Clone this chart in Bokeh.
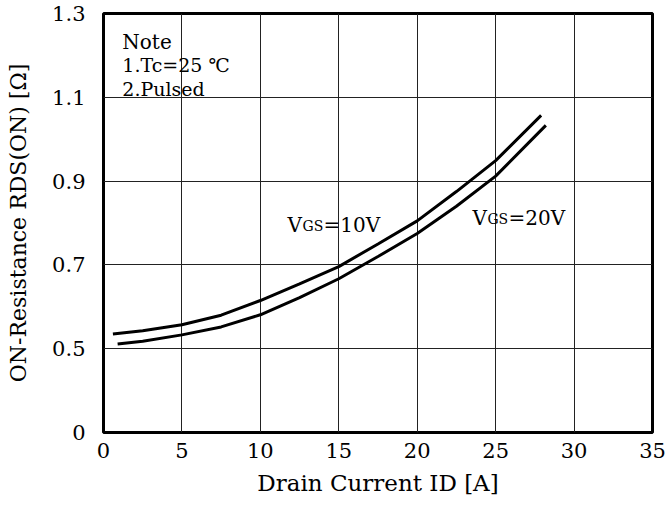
from bokeh.plotting import figure
from bokeh.models import Range1d, FixedTicker, Label
from bokeh.embed import file_html
from bokeh.resources import INLINE

# ---- data ----
x_ticks = [0, 5, 10, 15, 20, 25, 30, 35]
y_ticks = [0.3, 0.5, 0.7, 0.9, 1.1, 1.3]
y_tick_labels = ["0", "0.5", "0.7", "0.9", "1.1", "1.3"]

vgs10_x = [0.6, 2.5, 5, 7.5, 10, 12.5, 15, 17.5, 20, 22.5, 25, 27.9]
vgs10_y = [0.535, 0.543, 0.557, 0.580, 0.615, 0.655, 0.696, 0.750, 0.805, 0.875, 0.949, 1.057]

vgs20_x = [0.9, 2.5, 5, 7.5, 10, 12.5, 15, 17.5, 20, 22.5, 25, 28.2]
vgs20_y = [0.511, 0.518, 0.533, 0.552, 0.581, 0.622, 0.667, 0.720, 0.775, 0.840, 0.912, 1.033]

note_lines = ["Note", "1.Tc=25 \u2103", "2.Pulsed"]

SERIF = "DejaVu Serif"

p = figure(width=668, height=510, output_backend="svg", toolbar_location=None,
           x_range=Range1d(0, 35), y_range=Range1d(0.3, 1.3),
           min_border_left=103, min_border_right=16,
           min_border_top=13, min_border_bottom=78,
           background_fill_color="white", border_fill_color="white")

p.outline_line_color = "black"
p.outline_line_width = 3

p.xaxis.ticker = FixedTicker(ticks=x_ticks)
p.yaxis.ticker = FixedTicker(ticks=y_ticks)
p.yaxis.major_label_overrides = {t: l for t, l in zip(y_ticks, y_tick_labels)}

for ax in (p.xaxis[0], p.yaxis[0]):
    ax.axis_line_color = None
    ax.major_tick_line_color = None
    ax.minor_tick_line_color = None
    ax.major_tick_out = 0
    ax.major_tick_in = 0
    ax.major_label_text_font = SERIF
    ax.major_label_text_font_size = "21px"
    ax.major_label_text_color = "black"
    ax.axis_label_text_font = SERIF
    ax.axis_label_text_font_style = "normal"
    ax.axis_label_text_color = "black"

p.xaxis.axis_label_text_font_size = "23px"
p.yaxis.axis_label_text_font_size = "22px"
p.xaxis.major_label_standoff = 10
p.yaxis.major_label_standoff = 18
p.xaxis.axis_label = "Drain Current ID [A]"
p.yaxis.axis_label = "ON-Resistance RDS(ON) [\u03a9]"
p.xaxis.axis_label_standoff = 9
p.yaxis.axis_label_standoff = 18

p.grid.grid_line_color = "#222222"
p.grid.grid_line_width = 1
p.grid.grid_line_alpha = 1.0

p.line(vgs10_x, vgs10_y, line_color="black", line_width=3)
p.line(vgs20_x, vgs20_y, line_color="black", line_width=3)

# Note block
note_y = [1.231, 1.176, 1.121]
note_sizes = ["20px", "19px", "19px"]
for txt, yy, fs in zip(note_lines, note_y, note_sizes):
    p.add_layout(Label(x=1.2, y=yy, text=txt, text_font=SERIF, text_font_size=fs,
                       text_color="black", text_baseline="alphabetic"))

# curve labels with small-cap subscripts
def vgs_label(x, y, value_text):
    p.add_layout(Label(x=x, y=y, text="V", text_font=SERIF, text_font_size="20px",
                       text_color="black", text_baseline="alphabetic"))
    p.add_layout(Label(x=x, y=y, x_offset=15, y_offset=-1, text="GS", text_font=SERIF,
                       text_font_size="14px", text_color="black",
                       text_baseline="alphabetic"))
    p.add_layout(Label(x=x, y=y, x_offset=36, text=value_text, text_font=SERIF,
                       text_font_size="20px", text_color="black",
                       text_baseline="alphabetic"))

vgs_label(11.73, 0.796, "=10V")
vgs_label(23.52, 0.811, "=20V")

open("out.html", "w").write(file_html(p, INLINE))
